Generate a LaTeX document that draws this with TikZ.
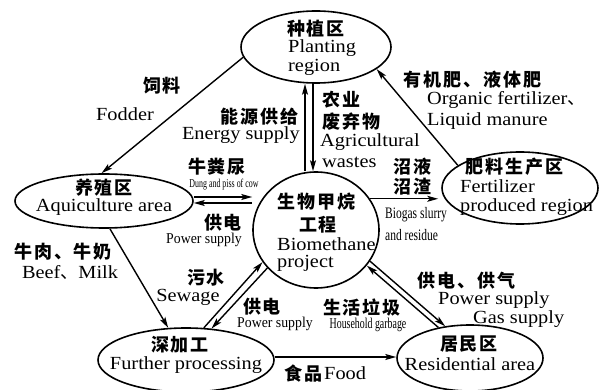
\documentclass[tikz,border=0pt]{standalone}
\usepackage{fontspec}
\usetikzlibrary{arrows.meta,calc,shapes.geometric}
\setmainfont{Liberation Serif}
\newfontfamily\zhf[LetterSpace=11]{Noto Sans CJK SC}
\newfontfamily\enA[FakeStretch=1.1]{Liberation Serif}
\newfontfamily\enN[FakeStretch=0.92]{Liberation Serif}
\newfontfamily\enC[FakeStretch=0.72]{Liberation Serif}
\newfontfamily\enD[FakeStretch=0.66]{Liberation Serif}
\begin{document}
\begin{tikzpicture}[x=1pt,y=-1pt,
  region/.style={draw, ellipse, line width=1.6pt, inner sep=0pt},
  zh/.style={font={\zhf\bfseries\fontsize{18}{18}\selectfont}, inner sep=0pt},
  en/.style={font={\enA\fontsize{18.5}{18.5}\selectfont}, inner sep=0pt},
  enn/.style={font={\enN\fontsize{15}{15}\selectfont}, inner sep=0pt},
  enc/.style={font={\enC\fontsize{16}{16}\selectfont}, inner sep=0pt},
  end/.style={font={\enD\fontsize{15}{15}\selectfont}, inner sep=0pt},
  ens/.style={font={\enD\fontsize{12}{12}\selectfont}, inner sep=0pt},
  arr/.style={line width=1.4pt, -{Stealth[length=11pt,width=6pt,inset=2.5pt]}}]
\useasboundingbox (0,0) rectangle (600,390);
\fill[white] (0,0) rectangle (600,390);
% regions
\node[region, minimum width=150pt, minimum height=72pt] (plant) at (316,47) {};
\node[region, minimum width=178pt, minimum height=54pt] (aqua) at (104,201) {};
\node[region, minimum width=126pt, minimum height=116pt] (bio) at (316,230) {};
\node[region, minimum width=156pt, minimum height=72pt] (fert) at (520,188) {};
\node[region, minimum width=176pt, minimum height=64pt] (proc) at (186,360) {};
\node[region, minimum width=146pt, minimum height=66pt] (res) at (470,358) {};
% region texts
\node[zh] (t1) at (316,29) {种植区};
\node[en, anchor=west] (t2) at (288,48) {Planting};
\node[en, anchor=west] (t3) at (288,67) {region};
\node[zh] (t4) at (104,188) {养殖区};
\node[en] (t5) at (104,207) {Aquiculture area};
\node[zh, anchor=west] (t6) at (277,202) {生物甲烷};
\node[zh] (t7) at (318,225) {工程};
\node[en, anchor=west] (t8) at (277,244) {Biomethane};
\node[en, anchor=west] (t9) at (277,263) {project};
\node[zh, anchor=west] (t10) at (465,167) {肥料生产区};
\node[en, anchor=west] (t11) at (460,186) {Fertilizer};
\node[en, anchor=west] (t12) at (460,207) {produced region};
\node[zh] (t13) at (180,345) {深加工};
\node[en] (t14) at (186,365) {Further processing};
\node[zh] (t15) at (469,344) {居民区};
\node[en] (t16) at (470,364) {Residential area};
% connectors
\draw[arr] (plant.188) -- (aqua.95);
\draw[arr] ([xshift=-11pt]bio.north) -- ([xshift=-11pt]plant.south);
\draw[arr] ([xshift=-3pt]plant.south) -- ([xshift=-3pt]bio.north);
\draw[arr] (fert.160) -- (plant.340);
\draw[arr, shorten >=3pt] (bio.30) -- (bio.30 -| fert.west);
\draw[arr] ($(aqua.east)+(0,-4)$) -- ($(aqua.east -| bio.west)+(0,-4)$);
\draw[arr] ($(aqua.east -| bio.west)+(0,2)$) -- ($(aqua.east)+(0,2)$);
\draw[arr] (aqua.282) -- (proc.119);
\draw[arr] (proc.61) -- (bio.211);
\draw[arr] (bio.218) -- (proc.51);
\draw[arr] (bio.330) -- (res.128);
\draw[arr] (res.136) -- (bio.325);
\draw[arr] ($(proc.east)+(0,-3)$) -- ($(proc.east -| res.west)+(0,-3)$);
% connector labels
\node[zh] (l1) at (162,86) {饲料};
\node[en] (l2) at (125,114) {Fodder};
\node[zh, anchor=east] (l3) at (299,117) {能源供给};
\node[en, anchor=east] (l4) at (300,135) {Energy supply};
\node[zh, anchor=west] (l5) at (322,100) {农业};
\node[zh, anchor=west] (l6) at (322,122) {废弃物};
\node[en, anchor=west] (l7) at (320,142) {Agricultural};
\node[en, anchor=west] (l8) at (322,162) {wastes};
\node[zh, anchor=west] (l9) at (403,80) {有机肥、液体肥};
\node[en, anchor=west] (l10) at (427,100) {Organic fertilizer{\zhf\fontsize{18}{18}\selectfont 、}};
\node[en, anchor=west] (l11) at (427,121) {Liquid manure};
\node[zh, anchor=west] (l12) at (393,167) {沼液};
\node[zh, anchor=west] (l13) at (393,187) {沼渣};
\node[enc, anchor=west] (l14) at (385,215) {Biogas slurry};
\node[enc, anchor=west] (l15) at (385,235) {and residue};
\node[zh] (l16) at (217,167) {牛粪尿};
\node[ens] (l17) at (224,185) {Dung and piss of cow};
\node[zh] (l18) at (223,223) {供电};
\node[enn] (l19) at (204,240) {Power supply};
\node[zh] (l20) at (63,252) {牛肉、牛奶};
\node[en] (l21) at (70,272) {Beef{\zhf\fontsize{18}{18}\selectfont 、}Milk};
\node[zh] (l22) at (206,278) {污水};
\node[en] (l23) at (188,297) {Sewage};
\node[zh] (l24) at (262,307) {供电};
\node[enn] (l25) at (275,324) {Power supply};
\node[zh] (l26) at (362,308) {生活垃圾};
\node[end] (l27) at (368,325) {Household garbage};
\node[zh, anchor=west] (l28) at (417,281) {供电、供气};
\node[en, anchor=west] (l29) at (438,300) {Power supply};
\node[en, anchor=west] (l30) at (473,319) {Gas supply};
\node[zh, anchor=east] (l31) at (323,374) {食品};
\node[en, anchor=west] (l32) at (324,373) {Food};
\end{tikzpicture}
\end{document}
